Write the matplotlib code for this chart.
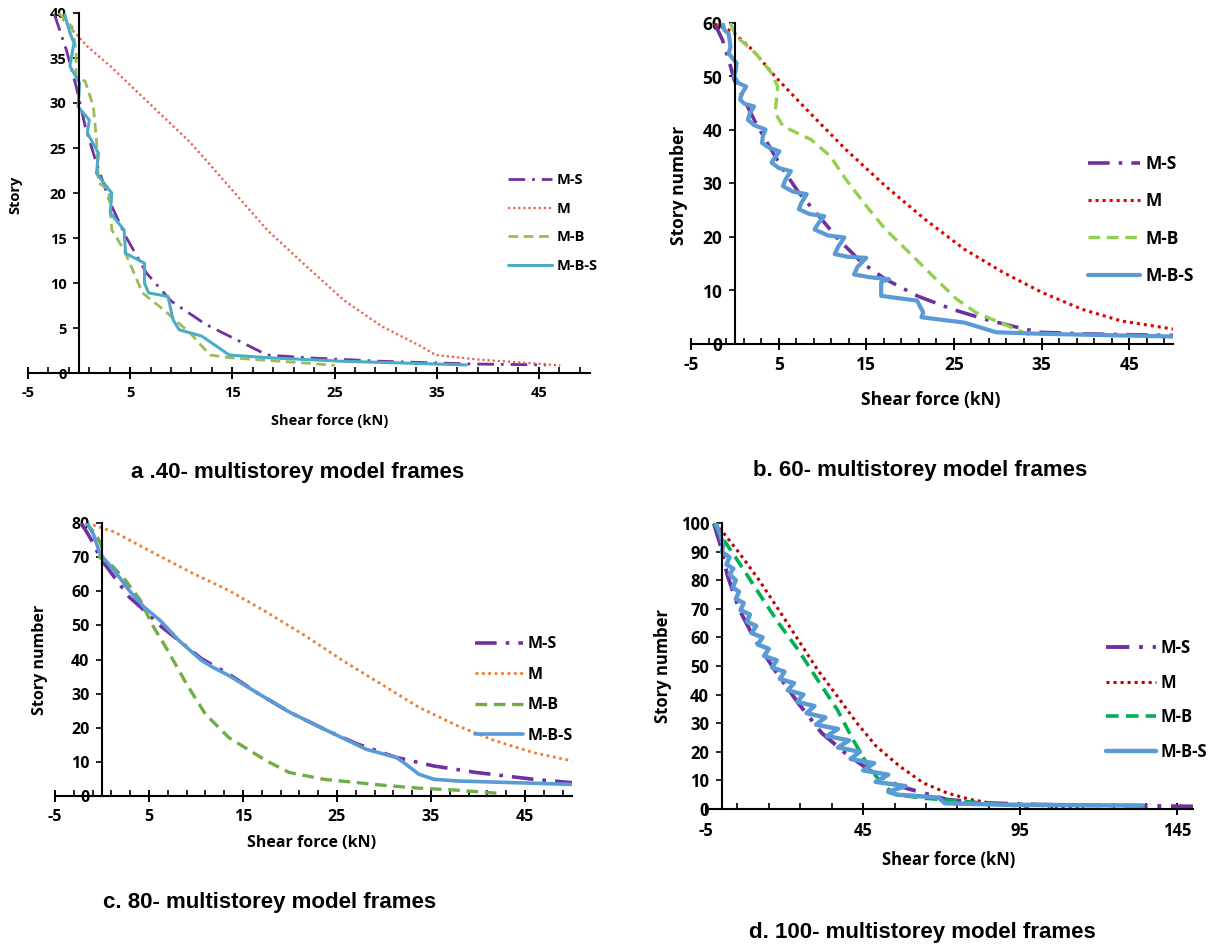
import numpy as np
import matplotlib.pyplot as plt
from matplotlib.ticker import MultipleLocator

plt.rcParams['axes.unicode_minus'] = False

W, H = 1226, 946
labels = ['M-S', 'M', 'M-B', 'M-B-S']

# ---- a: 40 storeys ----
a_ms_x = [-2.4, -1.25, -0.3, 0.6, 1.7, 3.05, 4.55, 6.6, 9.0, 12.4, 15.4, 18.4, 22.2, 29.6, 38.6, 45.7]
a_ms_y = [39.8, 35.9, 31.9, 27.4, 23.3, 18.9, 15.2, 11.1, 8.0, 5.4, 3.7, 2.0, 1.7, 1.3, 1.0, 0.9]
a_m_x = [-1.6, 0.8, 3.05, 7.2, 10.9, 14.7, 18.4, 22.2, 25.9, 29.6, 33.4, 34.9, 39.0, 42.8, 47.1]
a_m_y = [39.3, 36.3, 34.1, 29.6, 25.6, 20.7, 15.9, 11.9, 8.1, 5.2, 3.0, 2.0, 1.5, 1.2, 0.85]
a_mb_x = [-2.0, -0.7, -0.3, -0.3, 0.6, 1.4, 1.7, 1.9, 2.9, 3.2, 3.8, 4.55, 6.2, 8.3, 10.9, 12.8, 14.7, 22.2, 25.0]
a_mb_y = [40.0, 38.5, 35.9, 33.0, 32.4, 29.6, 25.9, 21.1, 20.4, 15.9, 14.8, 13.3, 8.9, 7.0, 4.4, 2.0, 1.7, 1.1, 0.85]
a_mbs_x = [-1.4, -0.9, -0.5, -0.9, 0.05, -0.1, 1.0, 0.8, 1.9, 1.7, 2.7, 3.2, 3.05, 4.4, 4.55, 6.4,
           6.4, 6.8, 8.7, 9.2, 9.8, 12.0, 14.7, 18.4, 25.9, 37.9]
a_mbs_y = [39.8, 37.8, 36.7, 34.1, 32.2, 29.6, 28.1, 26.7, 24.4, 22.2, 20.7, 20.0, 17.8, 15.9, 13.3, 12.2,
           10.0, 8.9, 8.5, 5.9, 4.8, 4.1, 2.0, 1.7, 1.3, 0.9]

# ---- b: 60 storeys ----
b_ms_x = [-2.3, -1.4, -0.7, -0.07, 1.05, 2.4, 3.7, 5.5, 7.3, 9.6, 11.8, 14.5, 17.2, 20.8, 24.8, 28.4,
          31.5, 34.7, 39.6, 50.0]
b_ms_y = [59.9, 56.8, 53.1, 49.4, 45.7, 41.3, 37.6, 32.6, 28.3, 23.9, 19.6, 15.2, 12.1, 9.0, 6.5, 4.7,
          3.4, 2.2, 1.9, 1.6]
b_m_x = [-2.3, -0.3, 2.0, 4.6, 8.2, 12.7, 17.2, 21.7, 26.2, 30.6, 35.1, 39.6, 44.1, 50.0]
b_m_y = [59.8, 58.4, 55.0, 50.0, 43.8, 36.3, 29.5, 23.3, 17.7, 13.4, 9.6, 6.5, 4.3, 2.8]
b_mb_x = [-0.5, 0.15, 2.4, 4.2, 4.9, 4.6, 5.5, 8.7, 10.9, 12.7, 15.0, 17.2, 19.9, 22.6, 25.3, 27.5,
          30.7, 33.3, 33.8]
b_mb_y = [60.0, 57.5, 54.3, 50.6, 48.1, 43.2, 40.7, 38.2, 35.1, 30.7, 25.8, 21.4, 17.1, 12.7, 8.4, 5.9,
          3.7, 1.9, 1.6]
b_mbs_x = [-1.4, -1.2, -0.7, -0.5, -0.6, -0.7, 0.2, 0.1, -0.07, 0.4, 1.3, 0.8, 0.6, 1.1, 2.2, 1.7, 1.5,
           2.2, 3.5, 3.2, 3.1, 3.9, 5.1, 4.5, 4.2, 5.0, 6.4, 5.8, 5.5, 6.6, 8.2, 7.6, 7.3, 8.5, 10.2, 9.5,
           9.1, 10.6, 12.5, 11.8, 11.4, 12.9, 15.0, 14.0, 13.6, 15.3, 17.6, 16.8, 16.7, 16.7, 20.8, 21.5,
           21.3, 26.2, 29.8, 35.1, 50.0]
b_mbs_y = [60.0, 58.7, 58.0, 55.6, 54.9, 54.3, 52.5, 51.1, 50.0, 48.8, 48.1, 46.8, 45.7, 44.9, 44.4,
           43.1, 41.9, 40.9, 40.1, 38.8, 37.6, 36.7, 36.0, 34.7, 33.9, 32.9, 32.3, 30.8, 29.5, 28.5,
           28.0, 26.4, 25.2, 24.3, 23.9, 22.5, 21.4, 20.3, 19.9, 18.2, 16.8, 16.3, 16.1, 14.4, 13.0,
           12.5, 12.1, 11.7, 11.5, 9.0, 8.1, 5.9, 5.0, 4.0, 2.2, 1.9, 1.4]

# ---- c: 80 storeys ----
c_ms_x = [-2.2, -1.1, -0.13, 1.3, 2.9, 4.5, 6.2, 8.2, 10.6, 13.5, 16.7, 20.0, 24.0, 27.2, 31.3, 35.3,
          39.8, 45.9, 50.0]
c_ms_y = [80.0, 74.9, 69.5, 64.2, 58.3, 54.4, 49.9, 45.5, 40.2, 35.7, 29.9, 24.5, 19.1, 15.2, 11.3, 8.8,
          6.9, 4.9, 3.9]
c_m_x = [-1.6, 1.3, 5.3, 9.4, 13.5, 17.5, 21.6, 25.6, 29.7, 33.7, 37.8, 41.8, 45.9, 50.0]
c_m_y = [80.0, 77.4, 71.5, 65.6, 60.2, 53.9, 47.0, 39.7, 32.8, 26.0, 20.6, 16.2, 12.7, 10.3]
c_mb_x = [-1.75, -0.7, -0.13, 0.07, -0.3, 0.9, 2.5, 4.1, 5.3, 7.0, 9.0, 11.0, 13.5, 17.5, 19.9, 23.6,
          29.7, 33.7, 37.8, 42.6]
c_mb_y = [80.0, 76.9, 73.9, 72.0, 70.0, 68.0, 63.2, 57.3, 50.4, 42.6, 32.8, 24.0, 17.1, 10.3, 6.9, 4.9,
          3.2, 2.3, 1.7, 0.7]
c_mbs_x = [-1.6, -0.94, -0.34, 0.07, 1.3, 2.9, 4.5, 6.2, 8.2, 10.6, 11.8, 13.5, 16.7, 20.0, 24.0, 28.1,
           31.3, 32.1, 33.7, 35.3, 37.8, 43.9, 50.0]
c_mbs_y = [80.0, 76.9, 72.0, 70.0, 66.1, 60.2, 55.3, 51.4, 45.5, 39.7, 37.7, 35.3, 29.9, 24.5, 19.1,
           13.7, 11.3, 9.8, 6.4, 4.9, 4.4, 3.9, 3.4]

# ---- d: 100 storeys ----
d_ms_x = [-2.5, -0.6, 1.9, 5.6, 10.6, 16.8, 24.3, 31.8, 39.3, 46.7, 56.7, 64.2, 71.7, 84.2, 101.6,
          126.5, 150.0]
d_ms_y = [99.8, 93.0, 81.4, 69.7, 59.2, 48.7, 37.1, 26.6, 19.6, 13.8, 7.9, 5.6, 3.3, 2.1, 1.5, 1.2, 0.9]
d_m_x = [-2.5, 0.6, 5.6, 11.8, 18.1, 24.3, 30.5, 36.8, 43.0, 49.2, 56.7, 64.2, 71.7, 79.2, 86.6, 101.6,
         114.1]
d_m_y = [100.0, 96.5, 89.5, 80.2, 69.7, 59.2, 48.7, 39.4, 30.1, 21.9, 14.9, 9.1, 5.6, 3.3, 1.9, 1.2, 0.35]
d_mb_x = [-2.5, 0.6, 5.6, 11.8, 18.1, 24.3, 30.5, 36.8, 41.8, 46.7, 51.7, 55.5, 64.2, 76.7, 89.1, 97.9]
d_mb_y = [100.0, 94.2, 86.0, 75.5, 65.0, 55.7, 45.2, 34.7, 24.2, 14.9, 7.9, 5.0, 3.8, 2.7, 1.5, 0.9]
d_mbs_x = [-1.9, -0.5, 0.5, 0.0, 2.5, 1.5, 3.7, 2.5, 4.5, 3.5, 5.5, 4.5, 7.0, 6.0, 9.0, 8.0, 11.0, 9.5,
           13.0, 11.5, 15.0, 13.5, 17.5, 16.0, 20.0, 18.5, 23.0, 21.0, 26.0, 24.0, 29.5, 27.0, 33.0,
           30.0, 37.0, 33.5, 40.5, 37.0, 44.0, 41.0, 48.5, 45.0, 53.0, 49.0, 58.5, 53.0, 56.0, 69.0,
           71.0, 90.0, 134.0]
d_mbs_y = [100.0, 96.0, 92.0, 90.0, 88.0, 85.5, 84.0, 82.0, 80.0, 77.5, 76.0, 73.5, 72.0, 69.5, 68.0,
           65.5, 64.0, 61.5, 60.0, 57.5, 56.0, 53.5, 52.0, 49.5, 48.0, 45.5, 44.0, 41.5, 40.0, 37.5,
           36.0, 33.5, 32.0, 29.5, 28.0, 25.5, 24.0, 21.5, 20.0, 17.5, 16.0, 13.5, 12.0, 9.5, 8.0, 6.0,
           5.0, 4.0, 2.0, 1.5, 1.2]


def fx(px):
    return px / W


def fy(py):
    return 1 - py / H


tick_font = 'Open Sans'
head_font = 'Liberation Sans'

fig = plt.figure(figsize=(W / 100, H / 100), dpi=100)

panels = [
    dict(box=(28, 590, 13, 373), xlim=(-5, 50), ylim=(0, 40), ystep=5, major=10, minor=2,
         data=[(a_ms_x, a_ms_y), (a_m_x, a_m_y), (a_mb_x, a_mb_y), (a_mbs_x, a_mbs_y)],
         colors=['#7030A0', '#E8604C', '#9BBB59', '#4BACC6'], lw=[2.0, 1.6, 2.0, 2.2],
         ylabel='Story', ylab=(15, 195), xlab=(330, 421), fs=10.5,
         leg=(508, 223, 1.0, 10.5), title='a .40- multistorey model frames', tpos=(298, 472)),
    dict(box=(691, 1173, 23, 344), xlim=(-5, 50), ylim=(0, 60), ystep=10, major=10, minor=2,
         data=[(b_ms_x, b_ms_y), (b_m_x, b_m_y), (b_mb_x, b_mb_y), (b_mbs_x, b_mbs_y)],
         colors=['#7030A0', '#E00000', '#92D050', '#5B9BD5'], lw=[2.6, 2.2, 2.4, 3.0],
         ylabel='Story number', ylab=(679, 185), xlab=(931, 400), fs=12.5,
         leg=(1088, 220, 1.1, 12.5), title='b. 60- multistorey model frames', tpos=(920, 470)),
    dict(box=(55, 572, 523, 796), xlim=(-5, 50), ylim=(0, 80), ystep=10, major=10, minor=2,
         data=[(c_ms_x, c_ms_y), (c_m_x, c_m_y), (c_mb_x, c_mb_y), (c_mbs_x, c_mbs_y)],
         colors=['#7030A0', '#ED7D31', '#70AD47', '#5B9BD5'], lw=[2.6, 2.0, 2.4, 2.6],
         ylabel='Story number', ylab=(40, 660), xlab=(312, 843), fs=11.5,
         leg=(475, 690, 0.9, 11.5), title='c. 80- multistorey model frames', tpos=(270, 902)),
    dict(box=(706, 1193, 523, 809), xlim=(-5, 150), ylim=(0, 100), ystep=10, major=50, minor=10,
         data=[(d_ms_x, d_ms_y), (d_m_x, d_m_y), (d_mb_x, d_mb_y), (d_mbs_x, d_mbs_y)],
         colors=['#7030A0', '#C00000', '#00B050', '#5B9BD5'], lw=[2.8, 2.2, 2.6, 3.2],
         ylabel='Story number', ylab=(663, 666), xlab=(949, 860), fs=12,
         leg=(1106, 700, 1.0, 12), title='d. 100- multistorey model frames', tpos=(922, 932)),
]

styles = [(0, (6, 2.5, 1, 2.5)), (0, (1, 1.3)), (0, (3.5, 2)), '-']

for p in panels:
    l, r, t, b = p['box']
    ax = fig.add_axes([fx(l), fy(b), fx(r - l), (b - t) / H])
    lines = []
    for (xs, ys), c, ls, lw, lab in zip(p['data'], p['colors'], styles, p['lw'], labels):
        ln, = ax.plot(xs, ys, color=c, ls=ls, lw=lw, label=lab, solid_capstyle='round',
                      solid_joinstyle='round')
        lines.append(ln)
    ax.set_xlim(*p['xlim'])
    ax.set_ylim(*p['ylim'])
    for s in ['top', 'right']:
        ax.spines[s].set_visible(False)
    ax.spines['left'].set_position(('data', 0))
    ax.spines['bottom'].set_position(('data', 0))
    ax.spines['left'].set_linewidth(1.5)
    ax.spines['bottom'].set_linewidth(1.5)
    ax.set_xticks(np.arange(p['xlim'][0], p['xlim'][1], p['major']))
    ax.xaxis.set_minor_locator(MultipleLocator(p['minor'], offset=1 if p['minor'] == 2 else 5))
    ax.set_yticks(np.arange(0, p['ylim'][1] + 1, p['ystep']))
    ax.tick_params(axis='x', which='major', direction='inout', length=8, width=1.4, pad=5)
    ax.tick_params(axis='x', which='minor', direction='in', length=4, width=1.2)
    ax.tick_params(axis='y', which='major', direction='out', length=4, width=1.2, pad=5)
    for tl in ax.get_xticklabels() + ax.get_yticklabels():
        tl.set_fontfamily(tick_font)
        tl.set_fontweight('bold')
        tl.set_fontsize(p['fs'])
    ax.patch.set_alpha(0)

    fig.text(fx(p['xlab'][0]), fy(p['xlab'][1]), 'Shear force (kN)', ha='center', va='center',
             family=tick_font, weight='bold', fontsize=p['fs'])
    fig.text(fx(p['ylab'][0]), fy(p['ylab'][1]), p['ylabel'], ha='center', va='center',
             rotation=90, family=tick_font, weight='bold', fontsize=p['fs'])
    fig.text(fx(p['tpos'][0]), fy(p['tpos'][1]), p['title'], ha='center', va='center',
             family=head_font, weight='bold', fontsize=16)

    lx, ly, sp, lfs = p['leg']
    ax.legend(handles=lines, loc='center left', bbox_to_anchor=(fx(lx), fy(ly)),
              bbox_transform=fig.transFigure, frameon=False, borderpad=0, borderaxespad=0,
              handlelength=3.0, handletextpad=0.3, labelspacing=sp,
              prop={'family': tick_font, 'weight': 'bold', 'size': lfs})

fig.savefig('out.png', dpi=100)
